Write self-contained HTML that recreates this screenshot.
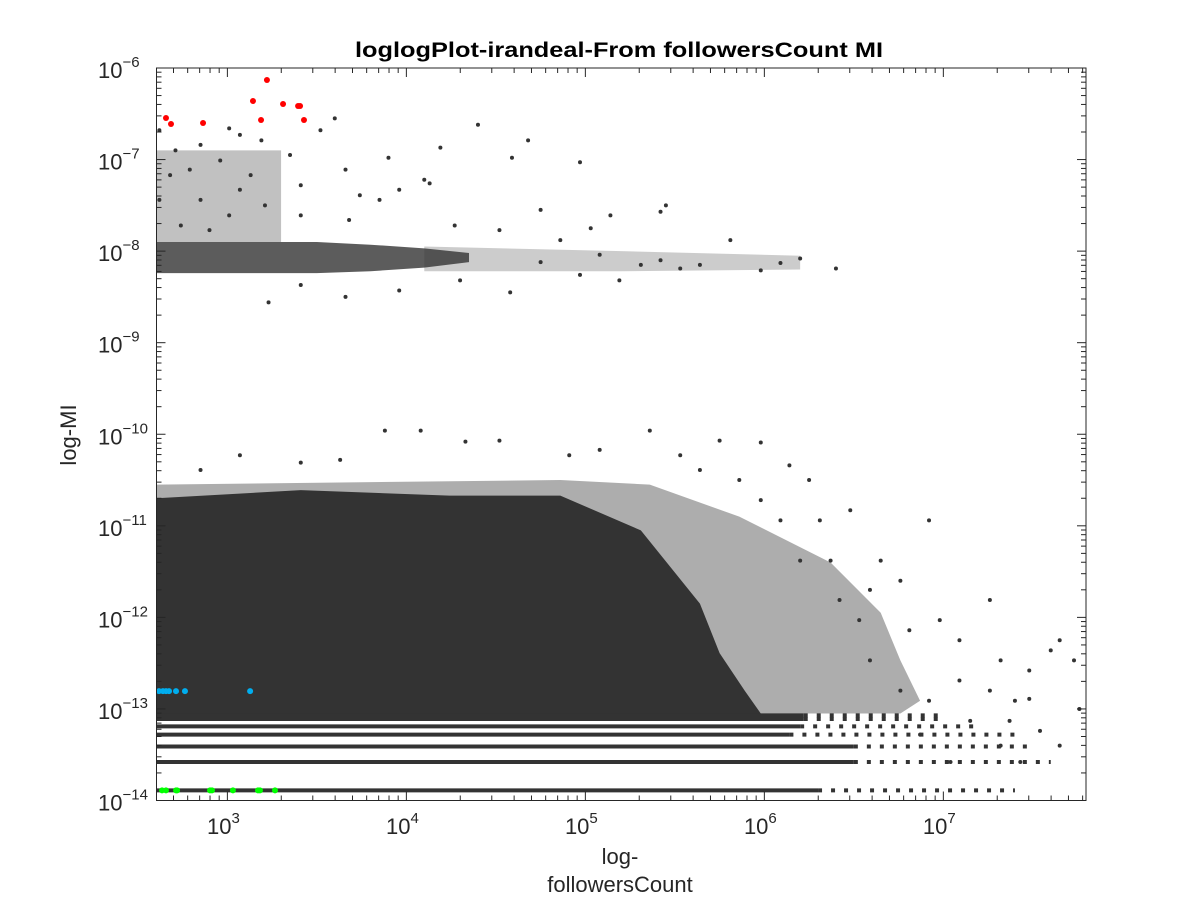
<!DOCTYPE html>
<html><head><meta charset="utf-8"><style>
html,body{margin:0;padding:0;background:#fff;}
svg{display:block;font-family:"Liberation Sans",sans-serif;}
</style></head><body>
<svg id="chart" width="1200" height="900" viewBox="0 0 1200 900">
<rect x="0" y="0" width="1200" height="900" fill="#fff"/>
<text x="355" y="57" textLength="528" lengthAdjust="spacingAndGlyphs" font-size="21" font-weight="bold" fill="#000">loglogPlot-irandeal-From followersCount MI</text>
<text x="620" y="864" text-anchor="middle" font-size="22" fill="#262626">log-</text>
<text x="620" y="892" text-anchor="middle" font-size="22" fill="#262626">followersCount</text>
<text transform="translate(76,435) rotate(-90)" text-anchor="middle" font-size="22" fill="#262626">log-MI</text>
<g id="marks"></g>
<g id="axes"></g>
</svg>
<script>
// ---- data (log10 values) ----
const xDomain = [2.604, 7.797];
const yDomain = [-14, -6];
const xTickExps = [3, 4, 5, 6, 7];
const yTickExps = [-14, -13, -12, -11, -10, -9, -8, -7, -6];
// dense main blob envelope
const blobX = [2.60, 3.41, 4.24, 4.86, 5.31, 5.64, 5.75, 5.89, 5.98];
const blobTop = [-10.70, -10.61, -10.67, -10.67, -11.05, -11.85, -12.39, -12.80, -13.05];
const blobBottom = -13.05;
// semi-dense fringe around blob
const fringeX = [2.60, 4.86, 5.36, 5.86, 6.37, 6.65, 6.76, 6.87, 6.76, 2.60];
const fringeY = [-10.55, -10.50, -10.55, -10.90, -11.40, -11.95, -12.47, -12.91, -13.05, -13.05];
// horizontal strips
const stripLevels = [-13.07, -13.11, -13.19, -13.28, -13.41, -13.58, -13.89];
const stripDenseEnd = [6.22, 6.22, 6.20, 6.14, 6.50, 6.50, 6.30];
const stripSparseEnd = [7.0, 7.0, 7.2, 7.4, 7.5, 7.6, 7.4];
// 1e-8 band
const bandX = [2.60, 3.50, 3.80, 4.10, 4.35];
const bandTop = [-7.90, -7.90, -7.93, -7.97, -8.02];
const bandBot = [-8.24, -8.24, -8.22, -8.18, -8.12];
const bandTailX = [4.10, 5.20, 6.20, 6.20, 5.20, 4.10];
const bandTailY = [-7.95, -8.00, -8.05, -8.20, -8.22, -8.22];
const clusterX = [2.60, 3.30, 3.30, 2.60];
const clusterY = [-6.90, -6.90, -7.90, -7.90];
// sparse points
const sparseX = [2.62,2.71,2.85,3.01,3.07,3.19,3.35,3.52,3.60,3.90,4.19,4.40,4.59,4.68,4.97,5.42,5.45,5.64,5.98,6.09,6.40,6.20,5.81,5.14,4.75,5.03,4.10,4.13,3.96,3.74,3.66,3.41,3.13,2.96,2.79,2.68,2.85,3.01,2.74,2.62,2.90,3.07,3.21,3.41,3.68,3.85,4.27,4.52,4.86,5.31,5.53,5.42,5.08,4.75,4.58,4.30,3.96,3.66,3.23,3.41,5.19,4.97,
5.64,5.75,5.98,6.14,6.25,6.48,6.65,6.76,6.92,6.98,7.09,7.26,7.32,7.48,7.60,7.65,7.73,7.76,7.54,7.32,7.43,7.04,6.87,7.15,7.48,6.59,6.42,6.20,6.09,5.86,6.31,6.53,6.76,6.92,7.26,7.40,5.36,5.08,4.52,4.08,4.33,3.41,3.07,2.85,3.88,3.63,4.91,5.53,5.98,6.37,6.59,6.81,7.09,7.65,7.37];
const sparseY = [-6.68,-6.90,-6.84,-6.66,-6.73,-6.79,-6.95,-6.68,-6.55,-6.98,-6.87,-6.62,-6.98,-6.79,-7.03,-7.57,-7.50,-8.15,-8.21,-8.13,-8.19,-8.08,-7.88,-7.61,-7.55,-7.75,-7.22,-7.26,-7.33,-7.39,-7.11,-7.28,-7.17,-7.01,-7.11,-7.17,-7.44,-7.61,-7.72,-7.44,-7.77,-7.33,-7.50,-7.61,-7.66,-7.44,-7.72,-7.77,-7.88,-8.15,-8.19,-8.10,-8.04,-8.12,-8.45,-8.32,-8.43,-8.50,-8.56,-8.37,-8.32,-8.26,
-10.39,-10.07,-10.09,-10.34,-10.50,-10.83,-11.38,-11.60,-10.94,-12.03,-12.25,-11.81,-12.47,-12.58,-12.36,-12.25,-12.47,-13.00,-13.24,-13.40,-13.58,-13.58,-13.28,-13.13,-12.89,-12.47,-11.81,-11.38,-10.94,-10.50,-10.94,-12.03,-12.80,-12.91,-12.80,-12.91,-9.96,-10.17,-10.07,-9.96,-10.08,-10.31,-10.23,-10.39,-9.96,-10.28,-10.23,-10.23,-10.72,-11.38,-11.70,-12.14,-12.69,-13.40,-13.13];
const redX = [2.657,2.685,2.864,3.143,3.221,3.188,3.311,3.395,3.406,3.428];
const redY = [-6.546,-6.612,-6.601,-6.361,-6.131,-6.568,-6.393,-6.415,-6.415,-6.568];
const blueX = [2.618,2.640,2.657,2.674,2.713,2.763,3.127];
const blueY = [-12.805,-12.805,-12.805,-12.805,-12.805,-12.805,-12.805];
const greenX = [2.635,2.657,2.713,2.719,2.903,2.914,3.031,3.171,3.182,3.266];
const greenY = [-13.89,-13.89,-13.89,-13.89,-13.89,-13.89,-13.89,-13.89,-13.89,-13.89];

// ---- layout ----
const L = 156.5, R = 1086, T = 68, B = 800.5;
const sx = v => L + (v - xDomain[0]) / (xDomain[1] - xDomain[0]) * (R - L);
const sy = v => B - (v - yDomain[0]) / (yDomain[1] - yDomain[0]) * (B - T);
const NS = 'http://www.w3.org/2000/svg';
const marks = document.getElementById('marks');
const axes = document.getElementById('axes');
const DARK = '#333';
function mk(tag, attrs, parent) {
  const e = document.createElementNS(NS, tag);
  for (const k in attrs) e.setAttribute(k, attrs[k]);
  parent.appendChild(e);
  return e;
}
function poly(xs, ys) {
  return xs.map((x, i) => (i ? 'L' : 'M') + sx(x) + ',' + sy(ys[i])).join('') + 'Z';
}
const defs = mk('defs', {}, marks);
const cp = mk('clipPath', {id: 'clip'}, defs);
mk('rect', {x: L, y: T, width: R - L, height: B - T}, cp);
const g = mk('g', {'clip-path': 'url(#clip)'}, marks);

let el = mk('path', {d: poly(fringeX, fringeY), fill: DARK, 'fill-opacity': 0.4}, g);


let d = 'M' + sx(blobX[0]) + ',' + sy(blobBottom);
blobX.forEach((x, i) => { d += 'L' + sx(x) + ',' + sy(blobTop[i]); });
d += 'L' + sx(blobX[blobX.length - 1]) + ',' + sy(blobBottom) + 'Z';
el = mk('path', {d: d, fill: DARK}, g);


stripLevels.forEach((lv, i) => {
  let s = mk('line', {x1: L, x2: sx(stripDenseEnd[i]), y1: sy(lv), y2: sy(lv), stroke: DARK, 'stroke-width': 4}, g);
  
  
  s = mk('line', {x1: sx(stripDenseEnd[i]), x2: sx(stripSparseEnd[i]), y1: sy(lv), y2: sy(lv), stroke: DARK, 'stroke-width': 4, 'stroke-dasharray': '4 9'}, g);
  
  
});
el = mk('path', {d: poly(clusterX, clusterY), fill: DARK, 'fill-opacity': 0.3}, g);


el = mk('path', {d: poly(bandTailX, bandTailY), fill: DARK, 'fill-opacity': 0.25}, g);


d = 'M' + bandX.map((x, i) => sx(x) + ',' + sy(bandTop[i])).join('L');
for (let i = bandX.length - 1; i >= 0; i--) d += 'L' + sx(bandX[i]) + ',' + sy(bandBot[i]);
el = mk('path', {d: d + 'Z', fill: DARK, 'fill-opacity': 0.8}, g);


sparseX.forEach((x, i) => {
  const c = mk('circle', {cx: sx(x), cy: sy(sparseY[i]), r: 2, fill: DARK}, g);
  
  
});
function colored(xs, ys, col, name) {
  xs.forEach((x, i) => {
    const c = mk('circle', {cx: sx(x), cy: sy(ys[i]), r: 3, fill: col}, g);
    
    
  });
}
colored(redX, redY, '#ff0000', 'red-point');
colored(blueX, blueY, '#00aeef', 'blue-point');
colored(greenX, greenY, '#00ff00', 'green-point');

// ---- axes ----
el = mk('rect', {x: L, y: T, width: R - L, height: B - T, fill: 'none', stroke: '#262626', 'stroke-width': 1}, axes);


for (let e = Math.floor(xDomain[0]); e <= Math.ceil(xDomain[1]); e++) {
  for (let m = 1; m <= 9; m++) {
    const v = e + Math.log10(m);
    if (v < xDomain[0] || v > xDomain[1]) continue;
    const len = m === 1 ? 9 : 5, x = sx(v);
    let t = mk('line', {x1: x, x2: x, y1: B, y2: B - len, stroke: '#262626'}, axes);
    
    
    t = mk('line', {x1: x, x2: x, y1: T, y2: T + len, stroke: '#262626'}, axes);
    
    
  }
}
for (let e = yDomain[0]; e <= yDomain[1]; e++) {
  for (let m = 1; m <= 9; m++) {
    const v = e + Math.log10(m);
    if (v > yDomain[1]) continue;
    const len = m === 1 ? 9 : 5, y = sy(v);
    let t = mk('line', {x1: L, x2: L + len, y1: y, y2: y, stroke: '#262626'}, axes);
    
    
    t = mk('line', {x1: R, x2: R - len, y1: y, y2: y, stroke: '#262626'}, axes);
    
    
  }
}
xTickExps.forEach(e => {
  const t = mk('text', {x: sx(e) - 4, y: 834, 'text-anchor': 'middle', 'font-size': 22, fill: '#262626'}, axes);
  
  
  t.textContent = '10';
  const s = mk('tspan', {dy: -11, 'font-size': 15}, t);
  s.textContent = String(e);
});
yTickExps.forEach(e => {
  const t = mk('text', {x: 98, y: sy(e) + 10, 'text-anchor': 'start', 'font-size': 22, fill: '#262626'}, axes);
  
  
  t.textContent = '10';
  const s = mk('tspan', {dy: -11, 'font-size': 15}, t);
  s.textContent = '\u2212' + String(-e);
});
</script>
</body></html>
